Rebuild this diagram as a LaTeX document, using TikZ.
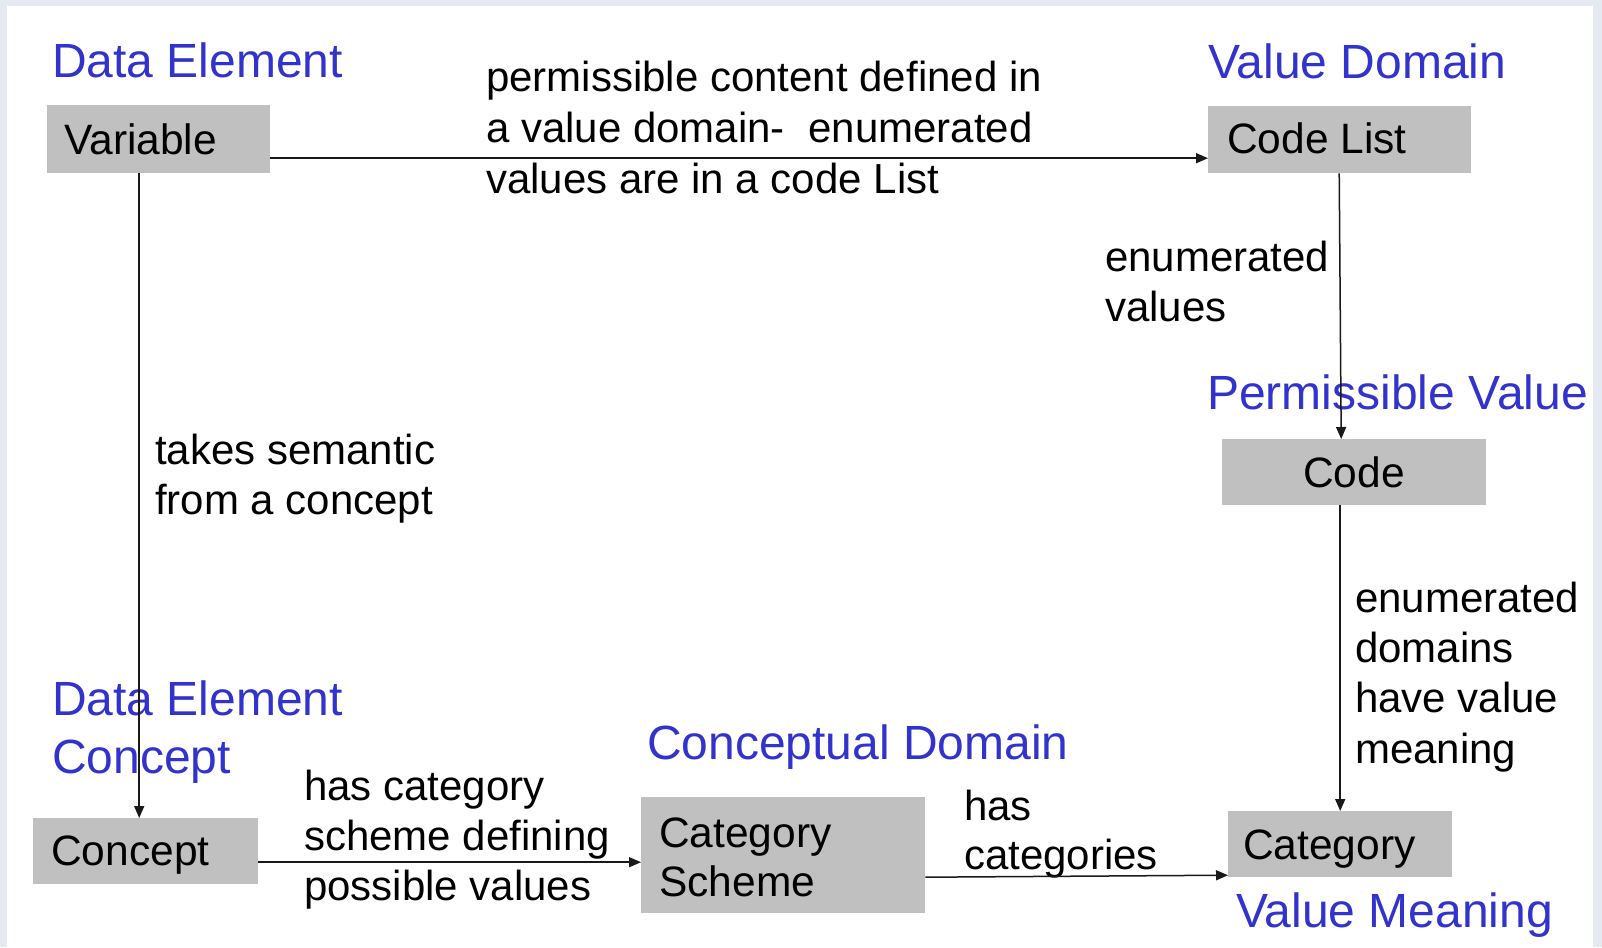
\documentclass[tikz,border=0pt]{standalone}
\usepackage{fontspec}
\setmainfont{Liberation Sans}
\usetikzlibrary{arrows.meta}
\definecolor{frame}{RGB}{228,233,242}
\definecolor{boxgray}{RGB}{192,192,192}
\definecolor{termblue}{RGB}{50,50,205}
\definecolor{ink}{RGB}{25,25,25}
\tikzset{
  box/.style={fill=boxgray, draw=none, anchor=north west, inner sep=0pt},
  boxtext/.style={anchor=base west, inner sep=0pt, text=black, font=\fontsize{42.5}{49}\selectfont},
  edgetext/.style={anchor=base west, inner sep=0pt, align=left, text=black, font=\fontsize{42}{49}\selectfont},
  term/.style={anchor=base west, inner sep=0pt, align=left, text=termblue, font=\fontsize{48}{58}\selectfont},
  arr/.style={draw=ink, line width=1.5pt, -{Triangle[length=12pt,width=10pt]}}
}
\begin{document}
\begin{tikzpicture}[x=1pt,y=-1pt]
  % page frame and white sheet
  \useasboundingbox (0,0) rectangle (1602,947);
  \fill[frame] (0,0) rectangle (1602,947);
  \fill[white] (7,6) rectangle (1593,947);

  % grey boxes
  \node[box, minimum width=223pt, minimum height=68pt] (var) at (47,105) {};
  \node[box, minimum width=263pt, minimum height=67pt] (cl) at (1208,106) {};
  \node[box, minimum width=264pt, minimum height=66pt] (code) at (1222,439) {};
  \node[box, minimum width=224pt, minimum height=66pt] (cat) at (1228,811) {};
  \node[box, minimum width=284pt, minimum height=116pt] (cs) at (641,797) {};
  \node[box, minimum width=225pt, minimum height=66pt] (con) at (33,818) {};

  % box labels (multi-line nodes are placed by their last baseline)
  \node[boxtext] (tVar) at (64,154) {Variable};
  \node[boxtext] (tCl) at (1227,153) {Code List};
  \node[boxtext] (tCode) at (1303,487) {Code};
  \node[boxtext] (tCat) at (1243,859) {Category};
  \node[boxtext, align=left] (tCs) at (659,896) {Category\\Scheme};
  \node[boxtext] (tCon) at (51,865) {Concept};

  % metadata terms
  \node[term] (nDE) at (52,78) {Data Element};
  \node[term] (nVD) at (1208,79) {Value Domain};
  \node[term] (nPV) at (1207,409) {Permissible Value};
  \node[term] (nDEC) at (52,773) {Data Element\\Concept};
  \node[term] (nCD) at (647,759) {Conceptual Domain};
  \node[term] (nVM) at (1236,927) {Value Meaning};

  % relationship labels
  \node[edgetext, font=\fontsize{42}{51}\selectfont] (lTop) at (486,193)
    {permissible content defined in\\a value domain-\ \ enumerated\\values are in a code List};
  \node[edgetext, font=\fontsize{42}{50}\selectfont] (lEnum) at (1105,321) {enumerated\\values};
  \node[edgetext, font=\fontsize{42}{50}\selectfont] (lSem) at (155,514) {takes semantic\\from a concept};
  \node[edgetext, font=\fontsize{42}{50.3}\selectfont] (lMean) at (1355,763) {enumerated\\domains\\have value\\meaning};
  \node[edgetext, font=\fontsize{42}{50}\selectfont] (lScheme) at (304,900) {has category\\scheme defining\\possible values};
  \node[edgetext, font=\fontsize{42}{49}\selectfont] (lHas) at (964,869) {has\\categories};

  % connectors
  \draw[arr] ([yshift=-19pt]var.east) -- ([yshift=-18.5pt]cl.west);
  \draw[arr] ([xshift=-19.5pt]var.south) -- ([xshift=-6.5pt]con.north);
  \draw[arr] ([xshift=-0.5pt]cl.south) -- ([xshift=-13pt]code.north);
  \draw[arr] ([xshift=-14pt]code.south) -- (cat.north);
  \draw[arr] ([yshift=-11pt]con.east) -- ([yshift=-7pt]cs.west);
  \draw[arr] ([yshift=-22pt]cs.east) -- ([yshift=-31pt]cat.west);
\end{tikzpicture}
\end{document}
